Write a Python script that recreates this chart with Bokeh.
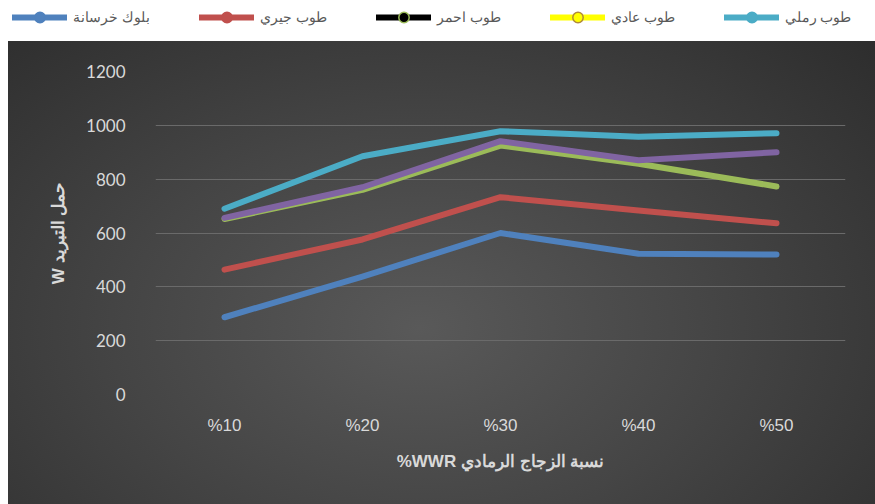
from bokeh.plotting import figure
from bokeh.models import ColumnDataSource, FactorRange, Range1d, Legend, LegendItem, FixedTicker
from bokeh.embed import file_html
from bokeh.resources import INLINE

categories = ["%10", "%20", "%30", "%40", "%50"]
sand_brick = [690, 885, 978, 958, 971]        # طوب رملي (cyan)
normal_brick = [656, 770, 941, 870, 900]      # purple line
red_brick = [652, 760, 925, 857, 773]         # green line
lime_brick = [464, 576, 733, 684, 636]        # طوب جيري (red)
concrete_block = [287, 438, 600, 523, 520]    # بلوك خرسانة (blue)
y_ticks = [0, 200, 400, 600, 800, 1000, 1200]

legend_labels = ["بلوك خرسانة", "طوب جيري", "طوب احمر", "طوب عادي", "طوب رملي"]

# ---- legend strip (white, top) ----
lg = figure(width=875, height=41, x_range=Range1d(0, 1), y_range=Range1d(0, 1),
            output_backend="svg", toolbar_location=None, min_border=0)
lg.axis.visible = False
lg.grid.visible = False
lg.outline_line_color = None
lg.background_fill_color = "#ffffff"
lg.border_fill_color = "#ffffff"

leg_styles = [("#4f81bd", "#4f81bd", "#4f81bd"),
              ("#c0504d", "#c0504d", "#c0504d"),
              ("#000000", "#000000", "#9bbb59"),
              ("#ffff00", "#ffff00", "#b08a3a"),
              ("#4bacc6", "#4bacc6", "#4bacc6")]
items = []
for lab, (lc, fc, oc) in zip(legend_labels, leg_styles):
    es = ColumnDataSource(dict(x=[float("nan")], y=[float("nan")]))
    r1 = lg.line("x", "y", source=es, line_color=lc, line_width=6, line_cap="round")
    r2 = lg.scatter("x", "y", source=es, marker="circle", size=11, fill_color=fc, line_color=oc, line_width=1.5)
    items.append(LegendItem(label=lab, renderers=[r1, r2]))

legend = Legend(items=items, orientation="horizontal", location=(10, 9),
                label_text_font="Liberation Sans", label_text_font_size="14px",
                label_text_color="#595959", glyph_width=55, glyph_height=26,
                spacing=49, label_standoff=6, label_height=26, padding=2, margin=0,
                background_fill_alpha=0, border_line_alpha=0)
lg.add_layout(legend, "center")

# ---- main chart ----
p = figure(width=875, height=463, x_range=FactorRange(*categories, range_padding=0),
           y_range=Range1d(0, 1200), output_backend="svg", toolbar_location=None,
           min_border_left=155, min_border_right=30, min_border_top=30, min_border_bottom=110)

p.styles = {"background": "linear-gradient(#ffffff,#ffffff) 0 0/8px 100% no-repeat, "
                          "radial-gradient(ellipse 75% 95% at 48% 62%, #595959 0%, #454545 45%, #2b2b2b 100%)"}
p.border_fill_alpha = 0
p.background_fill_alpha = 0
p.outline_line_color = None

src = ColumnDataSource(dict(x=categories, sand=sand_brick, normal=normal_brick, red=red_brick,
                            lime=lime_brick, block=concrete_block))

lw = 6
p.line("x", "block", source=src, line_color="#4f81bd", line_width=lw, line_cap="round", line_join="round")
p.line("x", "lime", source=src, line_color="#c0504d", line_width=lw, line_cap="round", line_join="round")
p.line("x", "red", source=src, line_color="#9bbb59", line_width=lw, line_cap="round", line_join="round")
p.line("x", "normal", source=src, line_color="#8064a2", line_width=lw, line_cap="round", line_join="round")
p.line("x", "sand", source=src, line_color="#4bacc6", line_width=lw, line_cap="round", line_join="round")

p.ygrid.ticker = FixedTicker(ticks=y_ticks)
p.yaxis.ticker = FixedTicker(ticks=y_ticks)
p.ygrid.grid_line_color = "#6a6a6a"
p.ygrid.grid_line_width = 1
p.xgrid.grid_line_color = None

for ax in (p.xaxis[0], p.yaxis[0]):
    ax.axis_line_color = None
    ax.major_tick_line_color = None
    ax.minor_tick_line_color = None

p.yaxis.major_label_text_font = "Lato"
p.yaxis.major_label_text_font_size = "17px"
p.yaxis.major_label_text_color = "#d9d9d9"
p.yaxis.major_label_standoff = 24

p.xaxis.major_label_text_font = "Liberation Sans"
p.xaxis.major_label_text_font_size = "17px"
p.xaxis.major_label_text_color = "#d9d9d9"
p.xaxis.major_label_standoff = 15

p.xaxis.axis_label = "%WWR نسبة الزجاج الرمادي"
p.xaxis.axis_label_text_font = "Liberation Sans"
p.xaxis.axis_label_text_font_size = "17px"
p.xaxis.axis_label_text_font_style = "bold"
p.xaxis.axis_label_text_color = "#d9d9d9"
p.xaxis.axis_label_standoff = 14

p.yaxis.axis_label = "W حمل التبريد"
p.yaxis.axis_label_text_font = "Liberation Sans"
p.yaxis.axis_label_text_font_size = "17px"
p.yaxis.axis_label_text_font_style = "bold"
p.yaxis.axis_label_text_color = "#d9d9d9"
p.yaxis.axis_label_standoff = 15

open("out.html", "w").write(file_html([lg, p], INLINE))
